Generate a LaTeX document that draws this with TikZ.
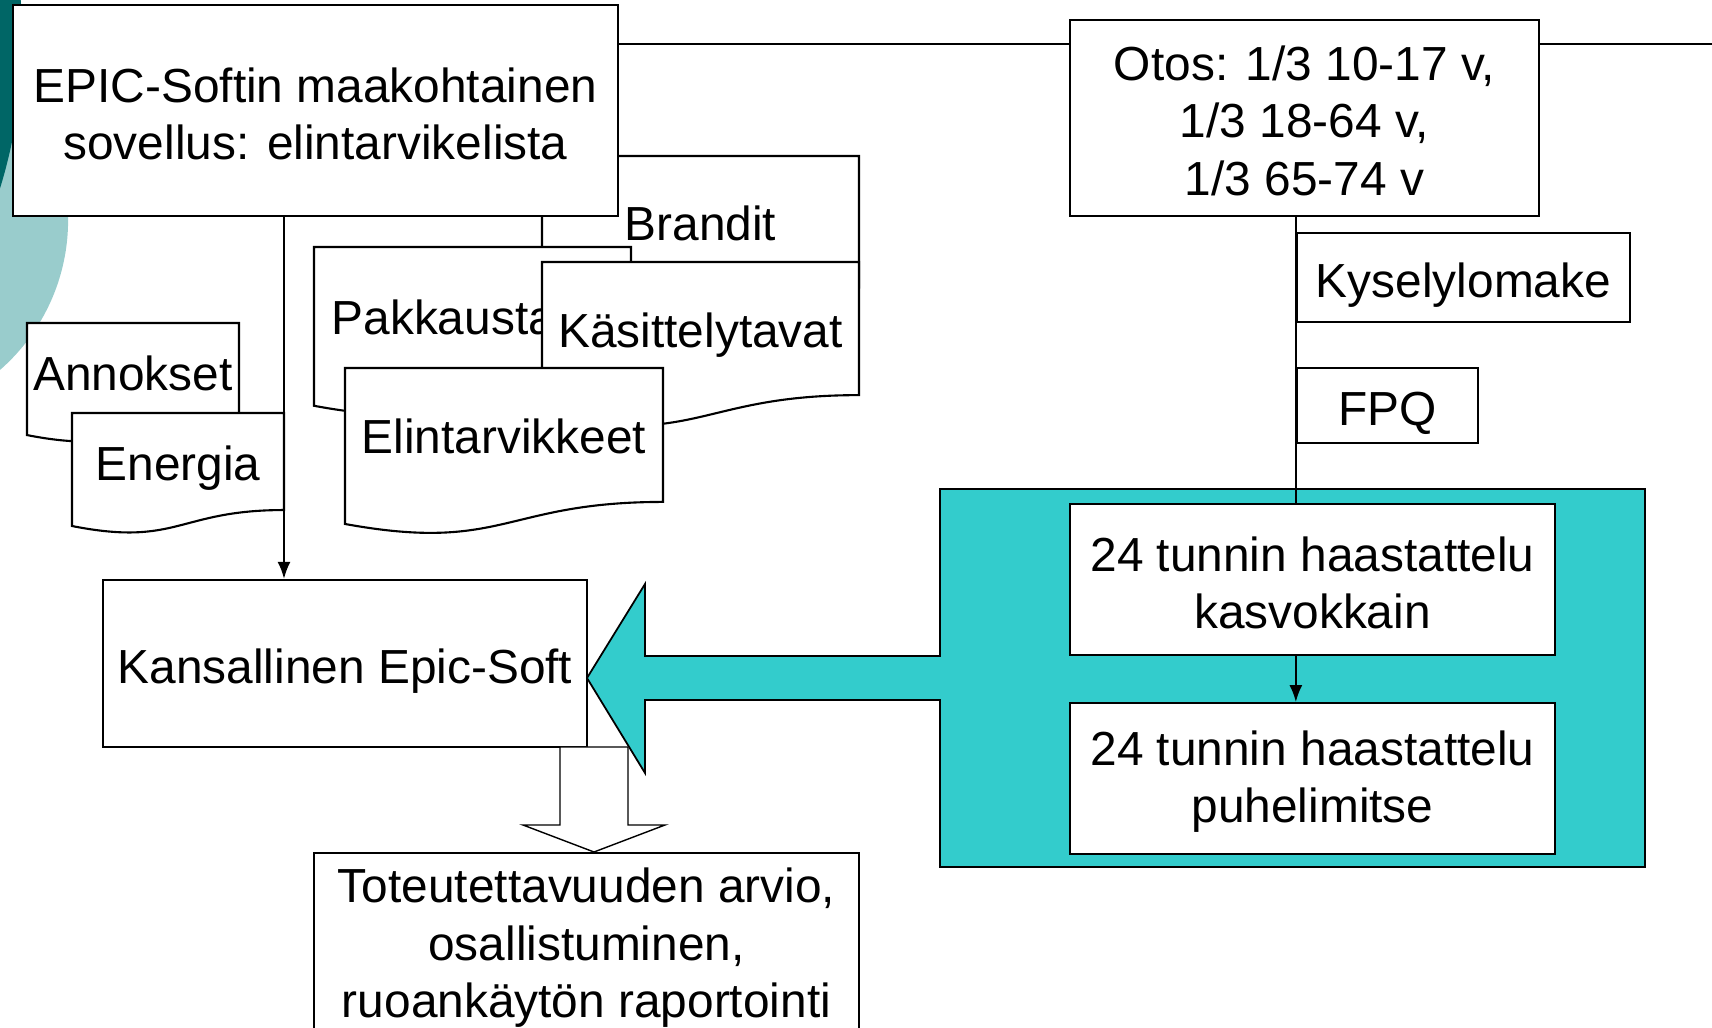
\documentclass[tikz,border=0pt]{standalone}
\usepackage{fontspec}
\setmainfont{Liberation Sans}
\usetikzlibrary{arrows.meta,calc,positioning}
\definecolor{boxcyan}{RGB}{51,204,204}
\definecolor{darkteal}{RGB}{0,102,102}
\definecolor{lightteal}{RGB}{153,204,204}
\tikzset{%
	block/.style    = {draw, rectangle, fill=white, line width=0.6pt, inner sep=2pt, align=center, font=\fontsize{13.6}{16.3}\selectfont},
	oneline/.style  = {text height=14.2pt, text depth=2.9pt},
	twolines/.style = {text height=28pt},
	threelines/.style = {text height=44pt},
	doctext/.style  = {inner sep=2pt, oneline, font=\fontsize{13.6}{16.3}\selectfont}, % text of a document shape
	docshape/.style = {draw, fill=white, line width=0.6pt},
	hollow/.style   = {draw, fill=white, line width=0.4pt},
	bigarrow/.style = {draw, fill=boxcyan, line width=0.5pt},
	line/.style     = {line width=0.6pt},
	arrow/.style    = {line width=0.6pt, -{Latex[length=1.7mm,width=1.3mm]}},
}
% document shape: name, left, top, width, height, text
\newcommand{\docnode}[6][]{%
	\filldraw[docshape] (#3,#4) -- ({#3+#5},#4) -- ({#3+#5},{#4+0.802*#6})
		.. controls ({#3+0.5*#5},{#4+0.802*#6}) and ({#3+0.5*#5},{#4+1.1075*#6}) .. (#3,{#4+0.934*#6}) -- cycle;
	\coordinate (#2-ne) at ({#3+#5},#4);
	\node[doctext,#1] (#2) at ({#3+0.5*#5},{#4+0.395*#6})}

\begin{document}
\begin{tikzpicture}[x=0.01cm,y=-0.01cm]
	\useasboundingbox (0,0) rectangle (1712,1028);
	\clip (0,0) rectangle (1712,1028);
	
	% background
	\fill[lightteal] (-131,220) circle [radius=1.99cm];
	\fill[darkteal] (-480,40) circle [radius=5.02cm];
	
	\docnode{brandit}{542}{156}{317}{164} {Brandit};
	\node [block, twolines, minimum width=6.05cm, minimum height=2.11cm] (epic) at (315.5,110.5) {EPIC-Softin maakohtainen\\ sovellus: elintarvikelista};
	\node [block, threelines, minimum width=4.69cm, minimum height=1.96cm] (otos) at (1304.5,118) {Otos: 1/3 10-17 v,\\ 1/3 18-64 v,\\ 1/3 65-74 v};
	\coordinate (rim) at (1712,44);
	\draw[line] (epic.east |- rim) -- (otos.west |- rim);
	\draw[line] (otos.east |- rim) -- (rim);
	
	\docnode{annokset}{27}{323}{212}{120} {Annokset};
	\docnode{energia}{72}{413}{212}{121} {Energia};
	\docnode[anchor=west, xshift=-1.485cm]{pakkaus}{314}{247}{317}{170} {Pakkausta};
	\docnode{kasittely}{542}{262}{317}{166} {Käsittelytavat};
	\docnode{elintarv}{345}{368}{318}{167} {Elintarvikkeet};
	
	\node [block, oneline, minimum width=4.84cm, minimum height=1.67cm] (kans) at (345,663.5) {Kansallinen Epic-Soft};
	\node [block, threelines, minimum width=5.45cm, minimum height=1.84cm] (tot) at (586.5,945) {Toteutettavuuden arvio,\\ osallistuminen,\\ ruoankäytön raportointi};
	\draw[arrow] (epic.south -| energia-ne) -- (kans.north -| energia-ne);
	\draw[hollow] (560,747) -- (628,747) -- (628,825) -- (665,825) -- (594,852) -- (523,825) -- (560,825) -- cycle;
	
	% cyan frame with arrow
	\filldraw[bigarrow] (940,489) -- (1645,489) -- (1645,867) -- (940,867) -- (940,700) -- (645,700) -- (645,773)
		-- (587,678) -- (645,584) -- (645,656) -- (940,656) -- cycle;
	
	\node [block, oneline, minimum width=3.33cm, minimum height=0.89cm] (kysely) at (1463.5,277.5) {Kyselylomake};
	\node [block, oneline, minimum width=1.81cm, minimum height=0.75cm] (fpq) at (1387.5,405.5) {FPQ};
	\node [block, twolines, minimum width=4.85cm, minimum height=1.51cm] (haast1) at (1312.5,579.5) {24 tunnin haastattelu\\ kasvokkain};
	\node [block, twolines, minimum width=4.85cm, minimum height=1.51cm, below=0.46cm of haast1] (haast2) {24 tunnin haastattelu\\ puhelimitse};
	
	\draw[line] (otos.south -| kysely.west) -- (haast1.north -| kysely.west);
	\draw[arrow] (haast1.south -| kysely.west) -- (haast2.north -| kysely.west);
\end{tikzpicture}
\end{document}
